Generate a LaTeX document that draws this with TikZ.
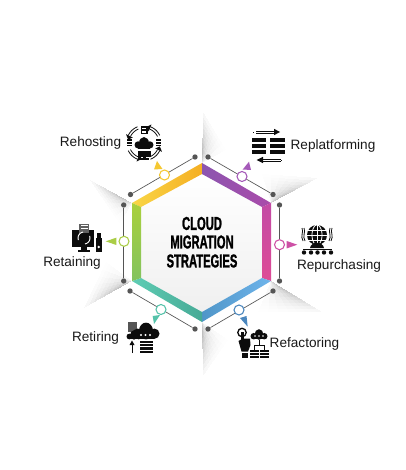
\documentclass[tikz,border=0pt]{standalone}
\usepackage{fontspec}
\setmainfont{Liberation Sans}
\newfontfamily\titlefont[FakeStretch=0.6,BoldFeatures={FakeStretch=0.6,FakeBold=1.2}]{Liberation Sans}
\usetikzlibrary{calc}
\definecolor{ink}{HTML}{0C0C0C}
\definecolor{wire}{HTML}{555555}
\definecolor{cyel}{RGB}{245,200,50}
\definecolor{cpur}{RGB}{165,90,185}
\definecolor{cmag}{RGB}{205,80,165}
\definecolor{cblu}{RGB}{75,135,190}
\definecolor{ctea}{RGB}{85,195,170}
\definecolor{cgrn}{RGB}{170,205,70}
\tikzset{
  x=0.75pt,y=-0.75pt,
  lbl/.style={font=\fontsize{10.2pt}{12pt}\selectfont,text=black!90,inner sep=0},
  ttl/.style={font=\titlefont\bfseries\fontsize{14pt}{15pt}\selectfont,text=black,inner sep=0},
  dot/.style={circle,fill=wire,minimum size=4pt,inner sep=0},
  ring/.style={circle,draw=#1,line width=0.8pt,fill=white,minimum size=7.5pt,inner sep=0},
  wireline/.style={draw=wire,line width=0.5pt},
  ic/.style={fill=ink,draw=none},
  il/.style={draw=ink,line width=0.6pt}
}
% soft wedge: apex, far end of the sharp edge, far end of the faded side
\newcommand{\wedgeshadow}[6]{%
  \foreach \k in {0.3,0.4,0.5,0.6,0.7,0.8,0.9,1}{
    \foreach \w in {0.08,0.16,0.26,0.38,0.52,0.68,0.84,1}{
      \fill[black,opacity=0.0035] (#1,#2) -- ($(#1,#2)!\k!(#3,#4)$) -- ($(#1,#2)!\k!(#3,#4)!\w!($(#1,#2)!\k!(#5,#6)$)$) -- cycle;
    }
  }
}
% cloud: centre x, centre y, half width
\newcommand{\cloudat}[3]{%
  \fill[ic] ({#1},{#2}) ellipse[x radius=#3*0.52,y radius=#3*0.62];
  \fill[ic] ({#1-#3*0.62},{#2+#3*0.2}) circle[radius=#3*0.38];
  \fill[ic] ({#1+#3*0.62},{#2+#3*0.2}) circle[radius=#3*0.38];
  \fill[ic] ({#1-#3*0.62},{#2+#3*0.2}) rectangle ({#1+#3*0.62},{#2+#3*0.58});
}
% stack of bars: centre x, top y, width, count, pitch, bar height
\newcommand{\stackat}[6]{%
  \foreach \j in {1,...,#4}{\fill[ic] ({#1-#3/2},{#2+(\j-1)*#5}) rectangle ({#1+#3/2},{#2+(\j-1)*#5+#6});}
}
\newcommand{\dblarc}[2]{%
  \draw[il] plot[domain=#1:#2,samples=10,smooth] ({144+17.5*cos(\x)},{143-17.5*sin(\x)});
  \draw[il] plot[domain=#1:#2,samples=10,smooth] ({144+15*cos(\x)},{143-15*sin(\x)});
  \fill[ic] ({144+20*cos(#2)},{143-20*sin(#2)}) -- ({144+12.5*cos(#2)},{143-12.5*sin(#2)}) -- ({144+16.2*cos(#2+14)},{143-16.2*sin(#2+14)}) -- cycle;
}
\begin{document}
\begin{tikzpicture}
\useasboundingbox[fill=white] (0,0) rectangle (405,470);
% radiating shadows
\wedgeshadow{202}{163}{203}{112}{226}{150}
\wedgeshadow{132}{203}{90}{180}{120}{224}
\wedgeshadow{271}{203}{318}{178}{262}{174}
\wedgeshadow{271}{281}{322}{312}{258}{312}
\wedgeshadow{132}{281}{84}{308}{106}{262}
\wedgeshadow{202}{322}{203}{376}{228}{340}
% hexagon body
\shade[top color=white,bottom color=black!6] (202,174) -- (262,207) -- (262,278) -- (202,312) -- (141,278) -- (141,207) -- cycle;
% coloured sides
\definecolor{s1a}{RGB}{249,214,70}\definecolor{s1b}{RGB}{245,175,35}
\definecolor{s2a}{RGB}{140,85,175}\definecolor{s2b}{RGB}{170,75,170}
\definecolor{s3a}{RGB}{195,75,165}\definecolor{s3b}{RGB}{222,75,150}
\definecolor{s4a}{RGB}{80,150,200}\definecolor{s4b}{RGB}{110,180,235}
\definecolor{s5a}{RGB}{70,170,150}\definecolor{s5b}{RGB}{95,205,180}
\definecolor{s6a}{RGB}{170,208,60}\definecolor{s6b}{RGB}{130,195,95}
\shade[left color=s1a,right color=s1b] (132,203) -- (202,163) -- (202,174) -- (141,207) -- cycle;
\shade[left color=s2a,right color=s2b] (202,163) -- (271,203) -- (262,207) -- (202,174) -- cycle;
\shade[top color=s3a,bottom color=s3b] (271,203) -- (271,281) -- (262,278) -- (262,207) -- cycle;
\shade[left color=s4a,right color=s4b] (202,322) -- (271,281) -- (262,278) -- (202,312) -- cycle;
\shade[left color=s5b,right color=s5a] (132,281) -- (202,322) -- (202,312) -- (141,278) -- cycle;
\shade[top color=s6a,bottom color=s6b] (132,203) -- (141,207) -- (141,278) -- (132,281) -- cycle;
% title
\node[ttl] (t1) at (202,223.5) {CLOUD};
\node[ttl] (t2) at (202,242) {MIGRATION};
\node[ttl] (t3) at (202,261) {STRATEGIES};
% connectors
\node[dot] (a1) at (130.5,194.5) {}; \node[dot] (a2) at (195,157) {};
\node[dot] (b1) at (208,157) {}; \node[dot] (b2) at (273,194.5) {};
\node[dot] (c1) at (279.5,205) {}; \node[dot] (c2) at (279.5,281) {};
\node[dot] (d1) at (273,291) {}; \node[dot] (d2) at (208,329) {};
\node[dot] (e1) at (195,329) {}; \node[dot] (e2) at (130,291) {};
\node[dot] (f1) at (123.7,281) {}; \node[dot] (f2) at (123.7,205) {};
\draw[wireline] (a1)--(a2); \draw[wireline] (b1)--(b2); \draw[wireline] (c1)--(c2);
\draw[wireline] (d1)--(d2); \draw[wireline] (e1)--(e2); \draw[wireline] (f1)--(f2);
\node[ring=cyel] (ra) at (164.5,175) {};
\node[ring=cpur] (rb) at (242,176.5) {};
\node[ring=cmag] (rc) at (279.5,244.7) {};
\node[ring=cblu] (rd) at (239,310) {};
\node[ring=ctea] (re) at (161,309.5) {};
\node[ring=cgrn] (rf) at (124,241.3) {};
% pointers
\fill[cyel] (157,161) -- (162.5,169) -- (154,169.5) -- cycle;
\fill[cpur] (249,161.7) -- (251,170) -- (242.7,169.5) -- cycle;
\fill[cmag] (297.3,244.7) -- (286.7,241) -- (286.7,248.4) -- cycle;
\fill[cblu] (247.7,326.7) -- (240,318) -- (246.5,316) -- cycle;
\fill[ctea] (154,324) -- (152.7,316) -- (160,315) -- cycle;
\fill[cgrn] (105.7,241.3) -- (116.3,237.7) -- (116.3,245) -- cycle;
% labels
\node[lbl] (l1) at (90.5,142.5) {Rehosting};
\node[lbl] (l2) at (333,145.5) {Replatforming};
\node[lbl] (l3) at (339,266) {Repurchasing};
\node[lbl] (l4) at (304.5,344) {Refactoring};
\node[lbl] (l5) at (95.5,338) {Retiring};
\node[lbl] (l6) at (72,263) {Retaining};
% ---- Rehosting icon
\cloudat{144}{143}{9.5}
\fill[ic] (140.5,126) rectangle (147.5,134.5); \fill[white] (142,127.7) rectangle (146,129.5); \fill[white] (142,131) rectangle (146,133);
\stackat{129.5}{139.5}{5}{3}{2.6}{1.6}
\stackat{158}{139.5}{5}{3}{2.6}{1.6}
\fill[ic] (137.5,151.5) rectangle (150.5,157); \fill[ic] (142.5,157) rectangle (145.5,158.5); \fill[ic] (139.5,158.5) rectangle (148.5,160);
\dblarc{112}{154}
\dblarc{26}{68}
\dblarc{206}{248}
\dblarc{-68}{-26}
% ---- Replatforming icon
\stackat{259}{137.7}{14.5}{3}{6}{4.4}
\stackat{277.5}{137.7}{14.5}{3}{6}{4.4}
\draw[il] (256,131) -- (275,131); \draw[il] (256,133) -- (275,133);
\draw[il,dotted] (253,132) -- (256,132);
\fill[ic] (274,128.8) -- (280,132) -- (274,135.2) -- cycle;
\draw[il] (262,159) -- (281,159); \draw[il] (262,161) -- (281,161);
\draw[il,dotted] (281,160) -- (284,160);
\fill[ic] (263,156.8) -- (256.5,160) -- (263,163.2) -- cycle;
% ---- Retaining icon
\fill[ink!65!white] (79,223.5) rectangle (89,235);
\fill[white] (80.5,225) rectangle (87.5,226); \fill[white] (80.5,227.5) rectangle (87.5,228.5);
\fill[ic] (71.7,230) rectangle (94,247);
\fill[ink!65!white] (79,229) rectangle (89,233);
\draw[white,line width=0.7pt] plot[domain=100:200,samples=8,smooth] ({84+6*cos(\x)},{238-6*sin(\x)});
\draw[white,line width=0.7pt] plot[domain=-80:20,samples=8,smooth] ({84+6*cos(\x)},{238-6*sin(\x)});
\fill[ic] (81,247) rectangle (87,250); \fill[ic] (78,250) rectangle (90,252);
\fill[white] (94,232) rectangle (95.5,253);
\fill[ic] (95.5,238) rectangle (102,252); \fill[ic] (96.8,233) rectangle (100.7,238);
\fill[white] (98.8,247) circle[radius=1.4];
% ---- Repurchasing icon
\fill[ic] (317,235) circle[radius=10];
\draw[white,line width=0.6pt] (307,235) -- (327,235) (308,230) -- (326,230) (308,240) -- (326,240) (317,225) -- (317,245);
\draw[white,line width=0.6pt] plot[domain=0:360,samples=30,smooth] ({317+5*cos(\x)},{235+10*sin(\x)});
\draw[il] (304,228) .. controls (306,232) and (302,236) .. (305,241);
\draw[il] (302,228) .. controls (304,232) and (300,236) .. (303,241);
\draw[il] (330,228) .. controls (328,232) and (332,236) .. (329,241);
\draw[il] (332,228) .. controls (330,232) and (334,236) .. (331,241);
\fill[ic] (310,248) .. controls (311,241) and (323,241) .. (324,248) -- cycle;
\fill[ic] (303,249) rectangle (332,250);
\foreach \xx in {304,311,317.5,324,331}{\fill[ic] (\xx,252.5) circle[radius=2.2];}
% ---- Retiring icon
\fill[ink!70!white] (128,322) rectangle (137,332);
\cloudat{134}{335}{7.5}
\fill[white] (146,331) ellipse[x radius=8.2,y radius=9.6];
\cloudat{146}{331}{13.5}
\foreach \xx in {141,145.5,150}{\fill[white] (\xx,335) circle[radius=1.1];}
\fill[white] (138,339.5) rectangle (154,341);
\stackat{146}{341}{13}{4}{3.2}{2.2}
\draw[il] (132,353) -- (132,343);
\fill[ic] (129.5,345) -- (132,340.5) -- (134.5,345) -- cycle;
% ---- Refactoring icon
\cloudat{259}{334.5}{8.5}
\foreach \xx in {255,259,263}{\fill[white] (\xx,336) circle[radius=0.9];}
\draw[il] (259,340) -- (259,345.5) (254,349.5) -- (254,345.5) -- (264,345.5) -- (264,349.5);
\stackat{254}{350}{9}{3}{3}{2}
\stackat{264}{350}{9}{3}{3}{2}
\draw[ink,line width=1pt] (242,332.5) circle[radius=4.2];
\fill[ic] (240.5,332) rectangle (243.5,342);
\fill[ic] (238.5,341) -- (243,338.5) -- (250,338.5) -- (250.5,345) -- (248,351.5) -- (241.5,351.5) -- cycle;
\fill[ic] (241.5,352.5) rectangle (248,358);
\end{tikzpicture}
\end{document}
